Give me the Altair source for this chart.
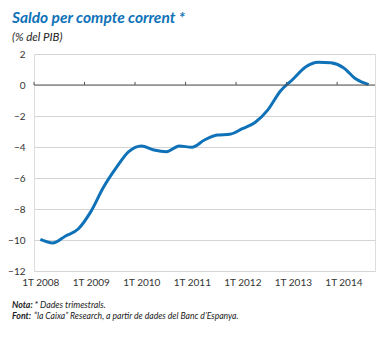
import altair as alt
import pandas as pd

quarters = [f"{q}T {y}" for y in range(2008, 2015) for q in range(1, 5)][:27]
values = [-9.96, -10.19, -9.74, -9.29, -8.17, -6.6, -5.35, -4.3, -3.93, -4.19,
          -4.3, -3.93, -4.02, -3.55, -3.23, -3.18, -2.82, -2.42, -1.62, -0.4,
          0.37, 1.16, 1.47, 1.43, 1.12, 0.38, 0.02]
y_ticks = [2, 0, -2, -4, -6, -8, -10, -12]
year_labels = ["1T 2008", "1T 2009", "1T 2010", "1T 2011", "1T 2012", "1T 2013", "1T 2014"]

df = pd.DataFrame({"i": list(range(len(values))), "q": quarters, "v": values})
tick_pos = [4 * k - 0.5 for k in range(len(year_labels))]
ticks_df = pd.DataFrame({"x": tick_pos, "y0": [0] * len(tick_pos), "y1": [0.2] * len(tick_pos)})

FONT = "Lato"
BLUE = "#0f72b8"

xscale = alt.Scale(domain=[-0.5, len(values) - 0.5], nice=False, zero=False)
yscale = alt.Scale(domain=[-12, 2], nice=False)

label_expr = ("datum.value == -0.5 ? '1T 2008' : datum.value == 3.5 ? '1T 2009' : "
              "datum.value == 7.5 ? '1T 2010' : datum.value == 11.5 ? '1T 2011' : "
              "datum.value == 15.5 ? '1T 2012' : datum.value == 19.5 ? '1T 2013' : '1T 2014'")

xaxis = alt.Axis(values=tick_pos, labelExpr=label_expr, title=None, grid=False,
                 domain=False, ticks=False, labelOffset=6.3, labelPadding=6,
                 labelOverlap=False, labelBound=False, labelFlush=False,
                 labelFont=FONT, labelFontSize=10, labelColor="#333333")
yaxis = alt.Axis(values=y_ticks, title=None, grid=True, gridColor="#d4d4d4",
                 gridWidth=1, domain=False, ticks=False, labelPadding=9,
                 labelOverlap=False, labelBound=False, labelFlush=False,
                 labelFont=FONT, labelFontSize=10, labelColor="#333333")

line = alt.Chart(df).mark_line(color=BLUE, strokeWidth=3, interpolate="monotone").encode(
    x=alt.X("i:Q", scale=xscale, axis=xaxis),
    y=alt.Y("v:Q", scale=yscale, axis=yaxis),
)

zero = alt.Chart(pd.DataFrame({"y": [0]})).mark_rule(color="#555555", strokeWidth=1).encode(
    y=alt.Y("y:Q", scale=yscale, axis=yaxis))

tick_marks = alt.Chart(ticks_df).mark_rule(color="#555555", strokeWidth=1).encode(
    x=alt.X("x:Q", scale=xscale, axis=xaxis),
    y=alt.Y("y0:Q", scale=yscale, axis=yaxis), y2="y1:Q")

def txt(s, x, y, size, weight="normal", style="italic", color="#222222"):
    return alt.Chart(pd.DataFrame({"t": [s]})).mark_text(
        align="left", baseline="alphabetic", font=FONT, fontSize=size,
        fontWeight=weight, fontStyle=style, color=color).encode(
        text="t:N", x=alt.value(x), y=alt.value(y))

title = txt("Saldo per compte corrent *", -22, -31, 15.5, "bold", "italic", BLUE)
subtitle = txt("(% del PIB)", -22, -13, 11.5)
nota_b = txt("Nota:", -22, 254, 8.8, "bold")
nota_t = txt("* Dades trimestrals.", 0.5, 254, 8.8)
font_b = txt("Font:", -22, 265, 8.8, "bold")
font_t = txt("\u201cla Caixa\u201d Research, a partir de dades del Banc d\u2019Espanya.", 0, 265, 8.6)

chart = alt.layer(line, zero, tick_marks, title, subtitle, nota_b, nota_t, font_b, font_t).properties(
    width=341, height=217,
    autosize=alt.AutoSizeParams(type="none"),
    padding={"left": 34, "top": 54, "right": 7, "bottom": 67},
).configure_view(stroke=None).configure(background="white")

chart.save("out.html", embed_options={"renderer": "svg", "actions": False})
